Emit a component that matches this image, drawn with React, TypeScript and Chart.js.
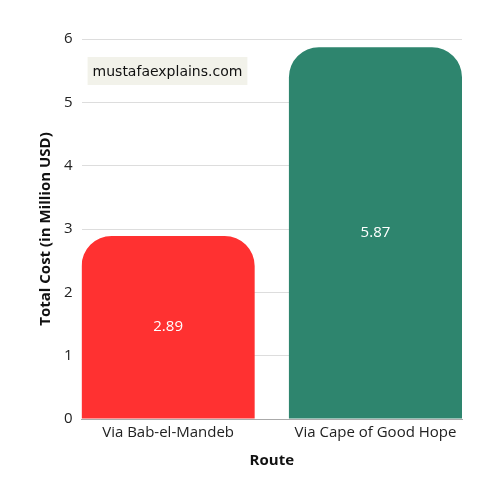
import { useEffect, useRef } from "react"
import { Chart, registerables } from "chart.js"

Chart.register(...registerables)

const routes = ["Via Bab-el-Mandeb", "Via Cape of Good Hope"]
const totalCost = [2.89, 5.87]
const barColors = ["#ff3131", "#2e856e"]
const FONT = "'Open Sans', sans-serif"

// bars sit flush against the plot edges, like in the original (bar = 45.5% of plot width)
const BAR_SHARE = 0.455

const flushBars = {
  id: "flushBars",
  afterLayout(chart: any) {
    const x = chart.scales.x
    const d0 = BAR_SHARE / 2
    const range = 1 / (1 - 2 * d0)
    x._startValue = -d0 * range
    x._valueRange = range
  },
}

// white value labels in the middle of each bar
const valueLabels = {
  id: "valueLabels",
  afterDatasetsDraw(chart: any) {
    const ctx = chart.ctx
    const meta = chart.getDatasetMeta(0)
    ctx.save()
    ctx.fillStyle = "#ffffff"
    ctx.font = `15px ${FONT}`
    ctx.textAlign = "center"
    ctx.textBaseline = "middle"
    meta.data.forEach((bar: any, i: number) => {
      const mid = (bar.y + bar.base) / 2
      ctx.fillText(totalCost[i].toFixed(2), bar.x, mid)
    })
    ctx.restore()
  },
}

// watermark box in the top-left of the plot
const watermark = {
  id: "watermark",
  afterDraw(chart: any) {
    const { ctx, chartArea } = chart
    const text = "mustafaexplains.com"
    ctx.save()
    ctx.font = `14px 'Comic Sans MS', 'DejaVu Sans', sans-serif`
    const w = ctx.measureText(text).width
    const x = chartArea.left + 6
    const y = chartArea.top + 18
    ctx.fillStyle = "#f2f2ea"
    ctx.fillRect(x, y, w + 10, 28)
    ctx.fillStyle = "#111111"
    ctx.textBaseline = "middle"
    ctx.fillText(text, x + 5, y + 15)
    ctx.restore()
  },
}

export default function App() {
  const canvasRef = useRef<HTMLCanvasElement>(null)

  useEffect(() => {
    if (!canvasRef.current) return
    const chart = new Chart(canvasRef.current, {
      type: "bar",
      data: {
        labels: routes,
        datasets: [
          {
            data: totalCost,
            backgroundColor: barColors,
            borderRadius: { topLeft: 30, topRight: 30, bottomLeft: 0, bottomRight: 0 },
            borderSkipped: "bottom",
            categoryPercentage: 1,
            barPercentage: BAR_SHARE / (1 - BAR_SHARE),
          },
        ],
      },
      options: {
        animation: false,
        responsive: true,
        maintainAspectRatio: false,
        layout: { padding: { top: 39, right: 38, bottom: 26, left: 33 } },
        plugins: {
          legend: { display: false },
          tooltip: { enabled: false },
        },
        scales: {
          x: {
            grid: { display: false, drawTicks: false },
            border: { color: "#aaaaaa" },
            ticks: { color: "#222222", padding: 5, font: { family: FONT, size: 15 } },
            title: {
              display: true,
              text: "Route",
              color: "#111111",
              font: { family: FONT, size: 15, weight: "bold" },
              padding: { top: 5 },
            },
          },
          y: {
            min: 0,
            max: 6,
            ticks: { stepSize: 1, color: "#222222", padding: 9, font: { family: FONT, size: 15 } },
            grid: { color: "#dddddd", drawTicks: false },
            border: { display: false },
            title: {
              display: true,
              text: "Total Cost (in Million USD)",
              color: "#111111",
              font: { family: FONT, size: 15, weight: "bold" },
              padding: { bottom: 0 },
            },
          },
        },
      },
      plugins: [flushBars, valueLabels, watermark],
    })
    return () => chart.destroy()
  }, [])

  return (
    <div style={{ position: "fixed", left: 0, top: 0, width: 500, height: 500, background: "#fff" }}>
      <canvas ref={canvasRef}></canvas>
    </div>
  )
}
